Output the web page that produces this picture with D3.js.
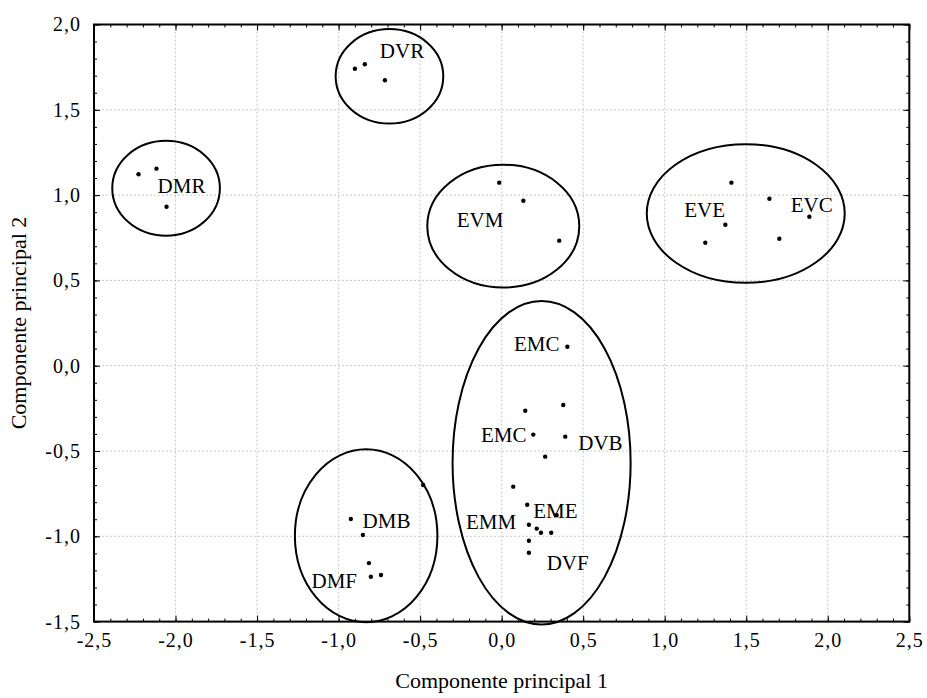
<!DOCTYPE html>
<html>
<head>
<meta charset="utf-8">
<script src="https://cdn.jsdelivr.net/npm/d3@7"></script>
<style>
body { margin: 0; background: #fff; }
svg text { font-family: "Liberation Serif", "Times New Roman", serif !important; fill: #000; }
.grid line { stroke: #c8c8c8; stroke-dasharray: 2,2; stroke-width: 1; }
</style>
</head>
<body>
<div id="chart"></div>
<script>
(function() {

const w = 927;
const h = 698;
const margin = {top: 24.5, right: 17.7, bottom: 76.4, left: 94};
const serif = "'Liberation Serif', 'Times New Roman', serif";

// scores on the first two principal components
var pc1 = [-2.227, -2.117, -2.055,
    -0.900, -0.839, -0.716,
    -0.015, 0.133, 0.353,
    1.409, 1.642, 1.372, 1.249, 1.703, 1.887,
    0.403, 0.378, 0.145, 0.194, 0.390, 0.267, 0.071, 0.157, 0.337, 0.167, 0.215, 0.241, 0.304, 0.167, 0.167,
    -0.481, -0.925, -0.851, -0.814, -0.802, -0.740];
var pc2 = [1.122, 1.155, 0.932,
    1.741, 1.767, 1.673,
    1.073, 0.967, 0.733,
    1.073, 0.979, 0.826, 0.721, 0.744, 0.873,
    0.111, -0.230, -0.264, -0.404, -0.416, -0.533, -0.709, -0.815, -0.877, -0.932, -0.955, -0.979, -0.979, -1.026, -1.096,
    -0.699, -0.899, -0.992, -1.157, -1.237, -1.227];

// ellipses drawn round each group (centre and half axes in component units)
var groupCx = [-2.058, -0.688, 0.010, 1.497, 0.245, -0.831];
var groupCy = [1.040, 1.696, 0.818, 0.892, -0.569, -0.997];
var groupRx = [0.330, 0.330, 0.466, 0.607, 0.546, 0.437];
var groupRy = [0.278, 0.277, 0.360, 0.406, 0.948, 0.507];

// sample labels
var labelText = ["DVR", "DMR", "EVM", "EVE", "EVC", "EMC", "EMC", "DVB", "EME", "EMM", "DVF", "DMB", "DMF"];
var labelX = [-0.747, -2.110, -0.276, 1.120, 1.773, 0.075, -0.127, 0.470, 0.194, -0.219, 0.276, -0.853, -1.166];
var labelY = [1.802, 1.010, 0.815, 0.870, 0.903, 0.088, -0.445, -0.494, -0.891, -0.956, -1.197, -0.953, -1.305];

var xTicks = [-2.5, -2.0, -1.5, -1.0, -0.5, 0.0, 0.5, 1.0, 1.5, 2.0, 2.5];
var yTicks = [-1.5, -1.0, -0.5, 0.0, 0.5, 1.0, 1.5, 2.0];

var xTitle = "Componente principal 1";
var yTitle = "Componente principal 2";

var locale = d3.formatLocale({decimal: ",", thousands: ".", grouping: [3], currency: ["", ""], minus: "-"});
var fmt = locale.format(".1f");

var svg = d3.select("#chart")
    .append("svg")
    .attr("width", w)
    .attr("height", h);

var x = d3.scaleLinear()
    .domain([-2.5, 2.5])
    .range([margin.left, w - margin.right]);

var y = d3.scaleLinear()
    .domain([-1.5, 2.0])
    .range([h - margin.bottom, margin.top]);

var minorX = d3.range(-25, 26).map(function(d) { return d / 10; });
var minorY = d3.range(-15, 21).map(function(d) { return d / 10; });

// grid
var grid = svg.append("g").attr("class", "grid");
grid.selectAll("line.gx")
    .data(xTicks.slice(1, -1))
    .enter()
    .append("line")
    .attr("class", "gx")
    .attr("x1", function(d) { return x(d); })
    .attr("x2", function(d) { return x(d); })
    .attr("y1", y(-1.5))
    .attr("y2", y(2.0));
grid.selectAll("line.gy")
    .data(yTicks.slice(1, -1))
    .enter()
    .append("line")
    .attr("class", "gy")
    .attr("x1", x(-2.5))
    .attr("x2", x(2.5))
    .attr("y1", function(d) { return y(d); })
    .attr("y2", function(d) { return y(d); });

// axes, ticks pointing inwards on all four sides
function styleAxis(g) {
    g.attr("font-family", serif).attr("font-size", 20);
    g.select(".domain").remove();
    g.selectAll("line").attr("stroke", "#000").attr("stroke-width", 1);
    g.selectAll("text")
        .style("font-family", serif)
        .style("font-size", "20px")
        .style("letter-spacing", "1px");
}

svg.append("g")
    .attr("transform", "translate(0," + y(-1.5) + ")")
    .call(d3.axisBottom(x).tickValues(minorX).tickSize(-3).tickFormat(""))
    .call(styleAxis);
svg.append("g")
    .attr("transform", "translate(0," + y(-1.5) + ")")
    .call(d3.axisBottom(x).tickValues(xTicks).tickSize(-6).tickPadding(11).tickFormat(fmt))
    .call(styleAxis);
svg.append("g")
    .attr("transform", "translate(0," + y(2.0) + ")")
    .call(d3.axisTop(x).tickValues(minorX).tickSize(-3).tickFormat(""))
    .call(styleAxis);
svg.append("g")
    .attr("transform", "translate(0," + y(2.0) + ")")
    .call(d3.axisTop(x).tickValues(xTicks).tickSize(-6).tickFormat(""))
    .call(styleAxis);

svg.append("g")
    .attr("transform", "translate(" + x(-2.5) + ",0)")
    .call(d3.axisLeft(y).tickValues(minorY).tickSize(-3).tickFormat(""))
    .call(styleAxis);
svg.append("g")
    .attr("transform", "translate(" + x(-2.5) + ",0)")
    .call(d3.axisLeft(y).tickValues(yTicks).tickSize(-6).tickPadding(13).tickFormat(fmt))
    .call(styleAxis);
svg.append("g")
    .attr("transform", "translate(" + x(2.5) + ",0)")
    .call(d3.axisRight(y).tickValues(minorY).tickSize(-3).tickFormat(""))
    .call(styleAxis);
svg.append("g")
    .attr("transform", "translate(" + x(2.5) + ",0)")
    .call(d3.axisRight(y).tickValues(yTicks).tickSize(-6).tickFormat(""))
    .call(styleAxis);

// frame
svg.append("rect")
    .attr("x", x(-2.5))
    .attr("y", y(2.0))
    .attr("width", x(2.5) - x(-2.5))
    .attr("height", y(-1.5) - y(2.0))
    .attr("fill", "none")
    .attr("stroke", "#000")
    .attr("stroke-width", 2);

// group ellipses
svg.selectAll("ellipse")
    .data(groupCx)
    .enter()
    .append("ellipse")
    .attr("cx", function(d) { return x(d); })
    .attr("cy", function(d, i) { return y(groupCy[i]); })
    .attr("rx", function(d, i) { return x(groupRx[i]) - x(0); })
    .attr("ry", function(d, i) { return y(0) - y(groupRy[i]); })
    .attr("fill", "none")
    .attr("stroke", "#000")
    .attr("stroke-width", 2);

// points
svg.selectAll("circle")
    .data(pc1)
    .enter()
    .append("circle")
    .attr("cx", function(d) { return x(d); })
    .attr("cy", function(d, i) { return y(pc2[i]); })
    .attr("r", 2.2)
    .attr("fill", "#000");

// labels
svg.selectAll("text.grouplabel")
    .data(labelText)
    .enter()
    .append("text")
    .attr("class", "grouplabel")
    .attr("x", function(d, i) { return x(labelX[i]); })
    .attr("y", function(d, i) { return y(labelY[i]); })
    .style("font-family", serif)
    .style("font-size", "21px")
    .text(function(d) { return d; });

// axis titles
svg.append("text")
    .attr("x", (x(-2.5) + x(2.5)) / 2)
    .attr("y", 688)
    .attr("text-anchor", "middle")
    .style("font-family", serif)
    .style("font-size", "22px")
    .text(xTitle);

svg.append("text")
    .attr("transform", "translate(26," + (y(-1.5) + y(2.0)) / 2 + ") rotate(-90)")
    .attr("text-anchor", "middle")
    .style("font-family", serif)
    .style("font-size", "22px")
    .text(yTitle);

})();
</script>
</body>
</html>
